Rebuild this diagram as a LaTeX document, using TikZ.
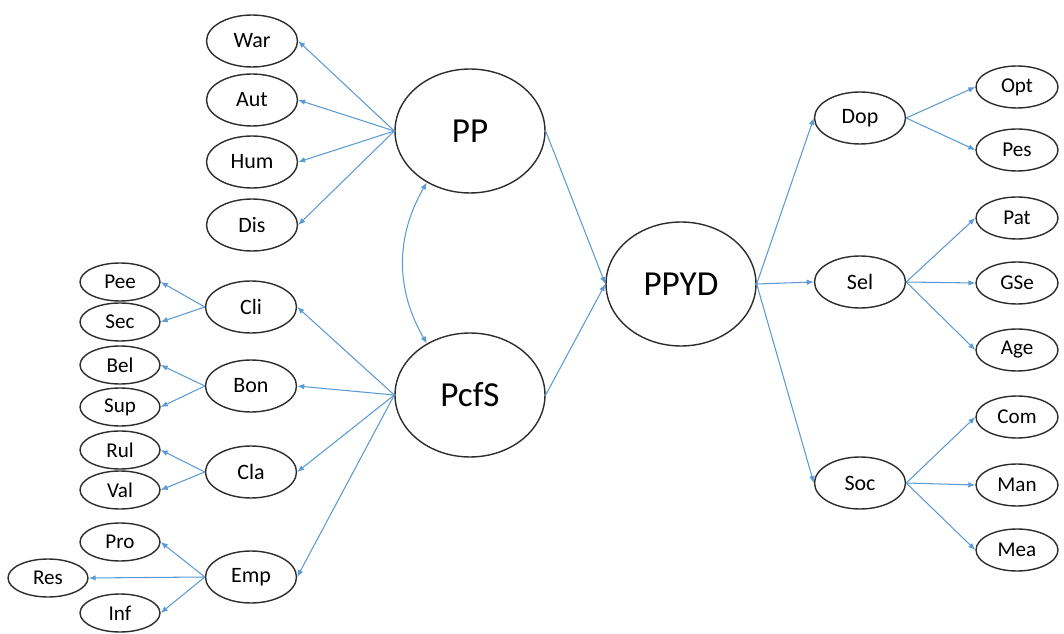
\documentclass[tikz,border=0pt]{standalone}
\usepackage{fontspec}
\setmainfont{Carlito}
\usetikzlibrary{shapes.geometric,arrows.meta}

\definecolor{azul}{RGB}{91,155,213}
\definecolor{borde}{RGB}{45,45,45}

\tikzset{
    punta/.tip={Latex[length=4pt,width=3.2pt]},
    grande/.style={ellipse, draw=borde, line width=0.8pt, inner sep=0pt,
        minimum width=3cm, minimum height=2.48cm, font=\fontsize{20}{24}\selectfont},
    medio/.style={ellipse, draw=borde, line width=0.8pt, inner sep=0pt,
        minimum width=1.82cm, minimum height=1.04cm, font=\fontsize{12.5}{15}\selectfont},
    chico/.style={ellipse, draw=borde, line width=0.8pt, inner sep=0pt,
        minimum width=1.6cm, minimum height=0.76cm, font=\fontsize{12}{14}\selectfont},
    conector/.style={draw=azul, line width=0.6pt, -punta}
}

\begin{document}
\begin{tikzpicture}[x=0.02cm, y=0.02cm]
    \useasboundingbox (0,0) rectangle (1064,-634);

    % Constructos principales
    \node[grande] (PP) at (470,-131) {PP};
    \node[grande] (PcfS) at (470,-395) {PcfS};
    \node[grande] (PPYD) at (681,-284) {PPYD};

    \draw[conector] (PP.east) -- (PPYD.west);
    \draw[conector] (PcfS.east) -- (PPYD.west);
    \draw[conector, punta-punta] (PcfS.130) to[bend left=30] (PP.230);

    % Indicadores de PP
    \foreach \nombre/\y in {War/41, Aut/100, Hum/162, Dis/225} {
        \node[medio] (\nombre) at (252,-\y) {\nombre};
        \draw[conector] (PP.west) -- (\nombre.east);
    }

    % Dimensiones de PcfS
    \foreach \nombre/\y in {Cli/307, Bon/386, Cla/472, Emp/577} {
        \node[medio] (\nombre) at (251,-\y) {\nombre};
        \draw[conector] (PcfS.west) -- (\nombre.east);
    }

    % Indicadores de cada dimension
    \foreach \nombre/\y/\padre in {Pee/282/Cli, Sec/322/Cli, Bel/365/Bon, Sup/407/Bon,
                                   Rul/450/Cla, Val/490/Cla, Pro/542/Emp, Inf/613/Emp} {
        \node[chico] (\nombre) at (120,-\y) {\nombre};
        \draw[conector] (\padre.west) -- (\nombre.east);
    }
    \node[chico] (Res) at (48,-578) {Res};
    \draw[conector] (Emp.west) -- (Res.east);

    % Dimensiones de PPYD
    \foreach \nombre/\y in {Dop/118, Sel/282, Soc/483} {
        \node[medio] (\nombre) at (860,-\y) {\nombre};
        \draw[conector] (PPYD.east) -- (\nombre.west);
    }

    % Indicadores de PPYD
    \foreach \nombre/\y/\padre in {Opt/87/Dop, Pes/150/Dop, Pat/218/Sel, GSe/283/Sel,
                                   Age/350/Sel, Com/417/Soc, Man/485/Soc, Mea/550/Soc} {
        \node[chico, minimum width=1.64cm, minimum height=0.84cm] (\nombre) at (1017,-\y) {\nombre};
        \draw[conector] (\padre.east) -- (\nombre.west);
    }
\end{tikzpicture}
\end{document}
